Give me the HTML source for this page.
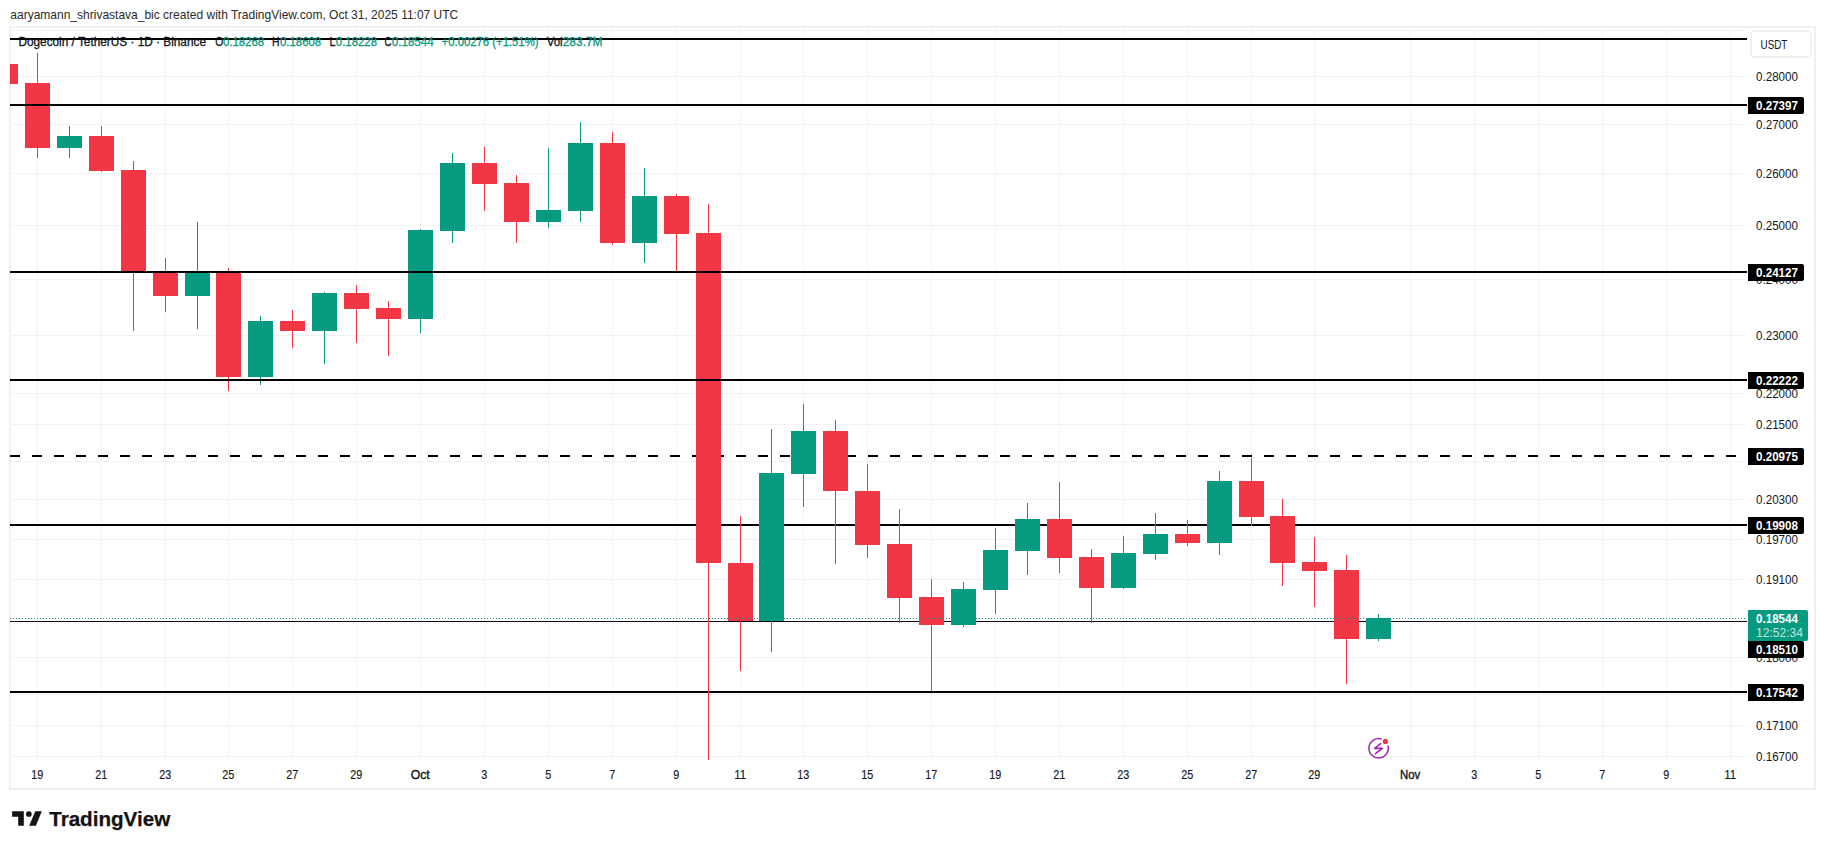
<!DOCTYPE html><html><head><meta charset="utf-8"><style>
html,body{margin:0;padding:0;background:#fff;width:1825px;height:849px;overflow:hidden}
svg{display:block}
text{font-family:"Liberation Sans",sans-serif}
</style></head><body>
<svg width="1825" height="849" viewBox="0 0 1825 849">
<rect x="0" y="0" width="1825" height="849" fill="#fff"/>

<text x="10.3" y="19.1" font-size="12.4" fill="#2B2B2B" textLength="448" lengthAdjust="spacingAndGlyphs">aaryamann_shrivastava_bic created with TradingView.com, Oct 31, 2025 11:07 UTC</text>
<g shape-rendering="crispEdges" fill="#F0F0F0">
<rect x="9" y="26" width="1807" height="2"/>
<rect x="9" y="788" width="1807" height="2"/>
<rect x="9" y="26" width="2" height="764"/>
<rect x="1814" y="26" width="2" height="764"/>
</g>
<g shape-rendering="crispEdges" fill="#F2F3F3">
<rect x="37" y="28" width="1" height="733"/>
<rect x="101" y="28" width="1" height="733"/>
<rect x="165" y="28" width="1" height="733"/>
<rect x="228" y="28" width="1" height="733"/>
<rect x="292" y="28" width="1" height="733"/>
<rect x="356" y="28" width="1" height="733"/>
<rect x="420" y="28" width="1" height="733"/>
<rect x="484" y="28" width="1" height="733"/>
<rect x="548" y="28" width="1" height="733"/>
<rect x="612" y="28" width="1" height="733"/>
<rect x="676" y="28" width="1" height="733"/>
<rect x="740" y="28" width="1" height="733"/>
<rect x="803" y="28" width="1" height="733"/>
<rect x="867" y="28" width="1" height="733"/>
<rect x="931" y="28" width="1" height="733"/>
<rect x="995" y="28" width="1" height="733"/>
<rect x="1059" y="28" width="1" height="733"/>
<rect x="1123" y="28" width="1" height="733"/>
<rect x="1187" y="28" width="1" height="733"/>
<rect x="1251" y="28" width="1" height="733"/>
<rect x="1314" y="28" width="1" height="733"/>
<rect x="1410" y="28" width="1" height="733"/>
<rect x="1474" y="28" width="1" height="733"/>
<rect x="1538" y="28" width="1" height="733"/>
<rect x="1602" y="28" width="1" height="733"/>
<rect x="1666" y="28" width="1" height="733"/>
<rect x="1730" y="28" width="1" height="733"/>
<rect x="10" y="30" width="1737" height="1"/>
<rect x="10" y="76" width="1737" height="1"/>
<rect x="10" y="124" width="1737" height="1"/>
<rect x="10" y="173" width="1737" height="1"/>
<rect x="10" y="225" width="1737" height="1"/>
<rect x="10" y="279" width="1737" height="1"/>
<rect x="10" y="335" width="1737" height="1"/>
<rect x="10" y="393" width="1737" height="1"/>
<rect x="10" y="424" width="1737" height="1"/>
<rect x="10" y="461" width="1737" height="1"/>
<rect x="10" y="499" width="1737" height="1"/>
<rect x="10" y="539" width="1737" height="1"/>
<rect x="10" y="579" width="1737" height="1"/>
<rect x="10" y="621" width="1737" height="1"/>
<rect x="10" y="657" width="1737" height="1"/>
<rect x="10" y="694" width="1737" height="1"/>
<rect x="10" y="725" width="1737" height="1"/>
<rect x="10" y="756" width="1737" height="1"/>
</g>
<g shape-rendering="crispEdges" fill="#000">
<rect x="10" y="524" width="1737" height="2"/>
<rect x="10" y="691" width="1737" height="2"/>
<rect x="10" y="621" width="1737" height="1"/>
<rect x="10" y="455" width="10" height="2"/>
<rect x="32" y="455" width="10" height="2"/>
<rect x="54" y="455" width="10" height="2"/>
<rect x="76" y="455" width="10" height="2"/>
<rect x="98" y="455" width="10" height="2"/>
<rect x="120" y="455" width="10" height="2"/>
<rect x="142" y="455" width="10" height="2"/>
<rect x="164" y="455" width="10" height="2"/>
<rect x="186" y="455" width="10" height="2"/>
<rect x="208" y="455" width="10" height="2"/>
<rect x="230" y="455" width="10" height="2"/>
<rect x="252" y="455" width="10" height="2"/>
<rect x="274" y="455" width="10" height="2"/>
<rect x="296" y="455" width="10" height="2"/>
<rect x="318" y="455" width="10" height="2"/>
<rect x="340" y="455" width="10" height="2"/>
<rect x="362" y="455" width="10" height="2"/>
<rect x="384" y="455" width="10" height="2"/>
<rect x="406" y="455" width="10" height="2"/>
<rect x="428" y="455" width="10" height="2"/>
<rect x="450" y="455" width="10" height="2"/>
<rect x="472" y="455" width="10" height="2"/>
<rect x="494" y="455" width="10" height="2"/>
<rect x="516" y="455" width="10" height="2"/>
<rect x="538" y="455" width="10" height="2"/>
<rect x="560" y="455" width="10" height="2"/>
<rect x="582" y="455" width="10" height="2"/>
<rect x="604" y="455" width="10" height="2"/>
<rect x="626" y="455" width="10" height="2"/>
<rect x="648" y="455" width="10" height="2"/>
<rect x="670" y="455" width="10" height="2"/>
<rect x="692" y="455" width="10" height="2"/>
<rect x="714" y="455" width="10" height="2"/>
<rect x="736" y="455" width="10" height="2"/>
<rect x="758" y="455" width="10" height="2"/>
<rect x="780" y="455" width="10" height="2"/>
<rect x="802" y="455" width="10" height="2"/>
<rect x="824" y="455" width="10" height="2"/>
<rect x="846" y="455" width="10" height="2"/>
<rect x="868" y="455" width="10" height="2"/>
<rect x="890" y="455" width="10" height="2"/>
<rect x="912" y="455" width="10" height="2"/>
<rect x="934" y="455" width="10" height="2"/>
<rect x="956" y="455" width="10" height="2"/>
<rect x="978" y="455" width="10" height="2"/>
<rect x="1000" y="455" width="10" height="2"/>
<rect x="1022" y="455" width="10" height="2"/>
<rect x="1044" y="455" width="10" height="2"/>
<rect x="1066" y="455" width="10" height="2"/>
<rect x="1088" y="455" width="10" height="2"/>
<rect x="1110" y="455" width="10" height="2"/>
<rect x="1132" y="455" width="10" height="2"/>
<rect x="1154" y="455" width="10" height="2"/>
<rect x="1176" y="455" width="10" height="2"/>
<rect x="1198" y="455" width="10" height="2"/>
<rect x="1220" y="455" width="10" height="2"/>
<rect x="1242" y="455" width="10" height="2"/>
<rect x="1264" y="455" width="10" height="2"/>
<rect x="1286" y="455" width="10" height="2"/>
<rect x="1308" y="455" width="10" height="2"/>
<rect x="1330" y="455" width="10" height="2"/>
<rect x="1352" y="455" width="10" height="2"/>
<rect x="1374" y="455" width="10" height="2"/>
<rect x="1396" y="455" width="10" height="2"/>
<rect x="1418" y="455" width="10" height="2"/>
<rect x="1440" y="455" width="10" height="2"/>
<rect x="1462" y="455" width="10" height="2"/>
<rect x="1484" y="455" width="10" height="2"/>
<rect x="1506" y="455" width="10" height="2"/>
<rect x="1528" y="455" width="10" height="2"/>
<rect x="1550" y="455" width="10" height="2"/>
<rect x="1572" y="455" width="10" height="2"/>
<rect x="1594" y="455" width="10" height="2"/>
<rect x="1616" y="455" width="10" height="2"/>
<rect x="1638" y="455" width="10" height="2"/>
<rect x="1660" y="455" width="10" height="2"/>
<rect x="1682" y="455" width="10" height="2"/>
<rect x="1704" y="455" width="10" height="2"/>
<rect x="1726" y="455" width="10" height="2"/>
</g>
<g shape-rendering="crispEdges">
<rect x="10" y="64" width="8" height="20" fill="#F23645"/>
<rect x="37" y="53" width="1" height="105" fill="#F23645"/>
<rect x="25" y="83" width="25" height="65" fill="#F23645"/>
<rect x="69" y="126" width="1" height="32" fill="#089981"/>
<rect x="57" y="136" width="25" height="12" fill="#089981"/>
<rect x="101" y="126" width="1" height="46" fill="#F23645"/>
<rect x="89" y="136" width="25" height="35" fill="#F23645"/>
<rect x="133" y="161" width="1" height="170" fill="#F23645"/>
<rect x="121" y="170" width="25" height="102" fill="#F23645"/>
<rect x="165" y="258" width="1" height="54" fill="#F23645"/>
<rect x="153" y="273" width="25" height="23" fill="#F23645"/>
<rect x="197" y="222" width="1" height="107" fill="#089981"/>
<rect x="185" y="273" width="25" height="23" fill="#089981"/>
<rect x="228" y="268" width="1" height="123" fill="#F23645"/>
<rect x="216" y="272" width="25" height="105" fill="#F23645"/>
<rect x="260" y="316" width="1" height="69" fill="#089981"/>
<rect x="248" y="321" width="25" height="56" fill="#089981"/>
<rect x="292" y="310" width="1" height="38" fill="#F23645"/>
<rect x="280" y="321" width="25" height="10" fill="#F23645"/>
<rect x="324" y="292" width="1" height="72" fill="#089981"/>
<rect x="312" y="293" width="25" height="38" fill="#089981"/>
<rect x="356" y="285" width="1" height="58" fill="#F23645"/>
<rect x="344" y="293" width="25" height="16" fill="#F23645"/>
<rect x="388" y="301" width="1" height="55" fill="#F23645"/>
<rect x="376" y="308" width="25" height="11" fill="#F23645"/>
<rect x="420" y="229" width="1" height="104" fill="#089981"/>
<rect x="408" y="230" width="25" height="89" fill="#089981"/>
<rect x="452" y="153" width="1" height="90" fill="#089981"/>
<rect x="440" y="163" width="25" height="68" fill="#089981"/>
<rect x="484" y="147" width="1" height="64" fill="#F23645"/>
<rect x="472" y="163" width="25" height="21" fill="#F23645"/>
<rect x="516" y="175" width="1" height="68" fill="#F23645"/>
<rect x="504" y="183" width="25" height="39" fill="#F23645"/>
<rect x="548" y="148" width="1" height="80" fill="#089981"/>
<rect x="536" y="210" width="25" height="12" fill="#089981"/>
<rect x="580" y="122" width="1" height="100" fill="#089981"/>
<rect x="568" y="143" width="25" height="68" fill="#089981"/>
<rect x="612" y="132" width="1" height="113" fill="#F23645"/>
<rect x="600" y="143" width="25" height="100" fill="#F23645"/>
<rect x="644" y="168" width="1" height="95" fill="#089981"/>
<rect x="632" y="196" width="25" height="47" fill="#089981"/>
<rect x="676" y="194" width="1" height="77" fill="#F23645"/>
<rect x="664" y="196" width="25" height="38" fill="#F23645"/>
<rect x="708" y="204" width="1" height="556" fill="#F23645"/>
<rect x="696" y="233" width="25" height="330" fill="#F23645"/>
<rect x="740" y="516" width="1" height="155" fill="#F23645"/>
<rect x="728" y="563" width="25" height="58" fill="#F23645"/>
<rect x="771" y="429" width="1" height="223" fill="#089981"/>
<rect x="759" y="473" width="25" height="148" fill="#089981"/>
<rect x="803" y="404" width="1" height="103" fill="#089981"/>
<rect x="791" y="431" width="25" height="43" fill="#089981"/>
<rect x="835" y="420" width="1" height="144" fill="#F23645"/>
<rect x="823" y="431" width="25" height="60" fill="#F23645"/>
<rect x="867" y="464" width="1" height="94" fill="#F23645"/>
<rect x="855" y="491" width="25" height="54" fill="#F23645"/>
<rect x="899" y="509" width="1" height="114" fill="#F23645"/>
<rect x="887" y="544" width="25" height="54" fill="#F23645"/>
<rect x="931" y="579" width="1" height="112" fill="#F23645"/>
<rect x="919" y="597" width="25" height="28" fill="#F23645"/>
<rect x="963" y="582" width="1" height="45" fill="#089981"/>
<rect x="951" y="589" width="25" height="36" fill="#089981"/>
<rect x="995" y="528" width="1" height="86" fill="#089981"/>
<rect x="983" y="550" width="25" height="40" fill="#089981"/>
<rect x="1027" y="503" width="1" height="72" fill="#089981"/>
<rect x="1015" y="519" width="25" height="32" fill="#089981"/>
<rect x="1059" y="482" width="1" height="91" fill="#F23645"/>
<rect x="1047" y="519" width="25" height="39" fill="#F23645"/>
<rect x="1091" y="549" width="1" height="74" fill="#F23645"/>
<rect x="1079" y="557" width="25" height="31" fill="#F23645"/>
<rect x="1123" y="536" width="1" height="53" fill="#089981"/>
<rect x="1111" y="553" width="25" height="35" fill="#089981"/>
<rect x="1155" y="513" width="1" height="47" fill="#089981"/>
<rect x="1143" y="534" width="25" height="20" fill="#089981"/>
<rect x="1187" y="520" width="1" height="26" fill="#F23645"/>
<rect x="1175" y="534" width="25" height="9" fill="#F23645"/>
<rect x="1219" y="471" width="1" height="84" fill="#089981"/>
<rect x="1207" y="481" width="25" height="62" fill="#089981"/>
<rect x="1251" y="458" width="1" height="68" fill="#F23645"/>
<rect x="1239" y="481" width="25" height="36" fill="#F23645"/>
<rect x="1282" y="499" width="1" height="87" fill="#F23645"/>
<rect x="1270" y="516" width="25" height="47" fill="#F23645"/>
<rect x="1314" y="537" width="1" height="70" fill="#F23645"/>
<rect x="1302" y="562" width="25" height="9" fill="#F23645"/>
<rect x="1346" y="555" width="1" height="129" fill="#F23645"/>
<rect x="1334" y="570" width="25" height="69" fill="#F23645"/>
<rect x="1378" y="614" width="1" height="27" fill="#089981"/>
<rect x="1366" y="618" width="25" height="21" fill="#089981"/>
</g>
<g shape-rendering="crispEdges" fill="#000">
<rect x="10" y="38" width="1737" height="2"/>
<rect x="10" y="104" width="1737" height="2"/>
<rect x="10" y="271" width="1737" height="2"/>
<rect x="10" y="379" width="1737" height="2"/>
</g>
<line x1="10" y1="618.5" x2="1747" y2="618.5" stroke="#089981" stroke-width="1" stroke-dasharray="1 2"/>
<text x="18.4" y="46" font-size="12.4" fill="#131722" stroke="#131722" stroke-width="0.3" textLength="187.6" lengthAdjust="spacingAndGlyphs">Dogecoin / TetherUS · 1D · Binance</text>
<text x="215.2" y="46" font-size="12.4" fill="#131722" stroke="#131722" stroke-width="0.3" textLength="8" lengthAdjust="spacingAndGlyphs">O</text>
<text x="223" y="46" font-size="12.4" fill="#089981" stroke="#089981" stroke-width="0.3" textLength="41.2" lengthAdjust="spacingAndGlyphs">0.18268</text>
<text x="272.1" y="46" font-size="12.4" fill="#131722" stroke="#131722" stroke-width="0.3" textLength="7.5" lengthAdjust="spacingAndGlyphs">H</text>
<text x="280" y="46" font-size="12.4" fill="#089981" stroke="#089981" stroke-width="0.3" textLength="41.2" lengthAdjust="spacingAndGlyphs">0.18608</text>
<text x="329.4" y="46" font-size="12.4" fill="#131722" stroke="#131722" stroke-width="0.3" textLength="6" lengthAdjust="spacingAndGlyphs">L</text>
<text x="335.8" y="46" font-size="12.4" fill="#089981" stroke="#089981" stroke-width="0.3" textLength="41.2" lengthAdjust="spacingAndGlyphs">0.18228</text>
<text x="384.6" y="46" font-size="12.4" fill="#131722" stroke="#131722" stroke-width="0.3" textLength="7" lengthAdjust="spacingAndGlyphs">C</text>
<text x="391.7" y="46" font-size="12.4" fill="#089981" stroke="#089981" stroke-width="0.3" textLength="42.1" lengthAdjust="spacingAndGlyphs">0.18544</text>
<text x="441.6" y="46" font-size="12.4" fill="#089981" stroke="#089981" stroke-width="0.3" textLength="96.9" lengthAdjust="spacingAndGlyphs">+0.00276 (+1.51%)</text>
<text x="546.7" y="46" font-size="12.4" fill="#131722" stroke="#131722" stroke-width="0.3" textLength="16" lengthAdjust="spacingAndGlyphs">Vol</text>
<text x="562.7" y="46" font-size="12.4" fill="#089981" stroke="#089981" stroke-width="0.3" textLength="39.9" lengthAdjust="spacingAndGlyphs">283.7M</text>
<text x="1756" y="80.8" font-size="12.8" fill="#131722" textLength="42" lengthAdjust="spacingAndGlyphs">0.28000</text>
<text x="1756" y="128.7" font-size="12.8" fill="#131722" textLength="42" lengthAdjust="spacingAndGlyphs">0.27000</text>
<text x="1756" y="178.4" font-size="12.8" fill="#131722" textLength="42" lengthAdjust="spacingAndGlyphs">0.26000</text>
<text x="1756" y="230.0" font-size="12.8" fill="#131722" textLength="42" lengthAdjust="spacingAndGlyphs">0.25000</text>
<text x="1756" y="283.7" font-size="12.8" fill="#131722" textLength="42" lengthAdjust="spacingAndGlyphs">0.24000</text>
<text x="1756" y="339.8" font-size="12.8" fill="#131722" textLength="42" lengthAdjust="spacingAndGlyphs">0.23000</text>
<text x="1756" y="398.3" font-size="12.8" fill="#131722" textLength="42" lengthAdjust="spacingAndGlyphs">0.22000</text>
<text x="1756" y="428.5" font-size="12.8" fill="#131722" textLength="42" lengthAdjust="spacingAndGlyphs">0.21500</text>
<text x="1756" y="504.1" font-size="12.8" fill="#131722" textLength="42" lengthAdjust="spacingAndGlyphs">0.20300</text>
<text x="1756" y="543.6" font-size="12.8" fill="#131722" textLength="42" lengthAdjust="spacingAndGlyphs">0.19700</text>
<text x="1756" y="584.3" font-size="12.8" fill="#131722" textLength="42" lengthAdjust="spacingAndGlyphs">0.19100</text>
<text x="1756" y="662.4" font-size="12.8" fill="#131722" textLength="42" lengthAdjust="spacingAndGlyphs">0.18000</text>
<text x="1756" y="729.9" font-size="12.8" fill="#131722" textLength="42" lengthAdjust="spacingAndGlyphs">0.17100</text>
<text x="1756" y="761.1" font-size="12.8" fill="#131722" textLength="42" lengthAdjust="spacingAndGlyphs">0.16700</text>
<path d="M1748 97 h54 a2 2 0 0 1 2 2 v13 a2 2 0 0 1 -2 2 h-54 z" fill="#000"/>
<text x="1756" y="110" font-size="12.2" fill="#fff" textLength="42" lengthAdjust="spacingAndGlyphs" font-weight="bold">0.27397</text>
<path d="M1748 264 h54 a2 2 0 0 1 2 2 v13 a2 2 0 0 1 -2 2 h-54 z" fill="#000"/>
<text x="1756" y="277" font-size="12.2" fill="#fff" textLength="42" lengthAdjust="spacingAndGlyphs" font-weight="bold">0.24127</text>
<path d="M1748 372 h54 a2 2 0 0 1 2 2 v13 a2 2 0 0 1 -2 2 h-54 z" fill="#000"/>
<text x="1756" y="385" font-size="12.2" fill="#fff" textLength="42" lengthAdjust="spacingAndGlyphs" font-weight="bold">0.22222</text>
<path d="M1748 448 h54 a2 2 0 0 1 2 2 v13 a2 2 0 0 1 -2 2 h-54 z" fill="#000"/>
<text x="1756" y="461" font-size="12.2" fill="#fff" textLength="42" lengthAdjust="spacingAndGlyphs" font-weight="bold">0.20975</text>
<path d="M1748 517 h54 a2 2 0 0 1 2 2 v13 a2 2 0 0 1 -2 2 h-54 z" fill="#000"/>
<text x="1756" y="530" font-size="12.2" fill="#fff" textLength="42" lengthAdjust="spacingAndGlyphs" font-weight="bold">0.19908</text>
<path d="M1748 684 h54 a2 2 0 0 1 2 2 v13 a2 2 0 0 1 -2 2 h-54 z" fill="#000"/>
<text x="1756" y="697" font-size="12.2" fill="#fff" textLength="42" lengthAdjust="spacingAndGlyphs" font-weight="bold">0.17542</text>
<path d="M1748 641 h54 a2 2 0 0 1 2 2 v13 a2 2 0 0 1 -2 2 h-54 z" fill="#000"/>
<text x="1756" y="654" font-size="12.2" fill="#fff" textLength="42" lengthAdjust="spacingAndGlyphs" font-weight="bold">0.18510</text>
<path d="M1748 610 h58 a2 2 0 0 1 2 2 v27 a2 2 0 0 1 -2 2 h-58 z" fill="#089981"/>
<text x="1756" y="623" font-size="12.2" fill="#fff" textLength="42" lengthAdjust="spacingAndGlyphs" font-weight="bold">0.18544</text>
<text x="1756" y="637" font-size="12.2" fill="#fff" textLength="47" lengthAdjust="spacingAndGlyphs" fill-opacity="0.75">12:52:34</text>
<rect x="1751" y="31" width="60" height="26" rx="4.5" fill="#fff" stroke="#EBEBEB" stroke-width="1.3"/>
<text x="1760.6" y="48.8" font-size="12.6" fill="#131722" textLength="26.8" lengthAdjust="spacingAndGlyphs">USDT</text>
<text x="31.2" y="779" font-size="12.5" fill="#131722" stroke="#131722" stroke-width="0.15" textLength="12.0" lengthAdjust="spacingAndGlyphs">19</text>
<text x="95.2" y="779" font-size="12.5" fill="#131722" stroke="#131722" stroke-width="0.15" textLength="12.0" lengthAdjust="spacingAndGlyphs">21</text>
<text x="159.2" y="779" font-size="12.5" fill="#131722" stroke="#131722" stroke-width="0.15" textLength="12.0" lengthAdjust="spacingAndGlyphs">23</text>
<text x="222.2" y="779" font-size="12.5" fill="#131722" stroke="#131722" stroke-width="0.15" textLength="12.0" lengthAdjust="spacingAndGlyphs">25</text>
<text x="286.2" y="779" font-size="12.5" fill="#131722" stroke="#131722" stroke-width="0.15" textLength="12.0" lengthAdjust="spacingAndGlyphs">27</text>
<text x="350.2" y="779" font-size="12.5" fill="#131722" stroke="#131722" stroke-width="0.15" textLength="12.0" lengthAdjust="spacingAndGlyphs">29</text>
<text x="410.7" y="779" font-size="12.5" fill="#131722" stroke="#131722" stroke-width="0.4" textLength="19" lengthAdjust="spacingAndGlyphs">Oct</text>
<text x="481.2" y="779" font-size="12.5" fill="#131722" stroke="#131722" stroke-width="0.15" textLength="6.0" lengthAdjust="spacingAndGlyphs">3</text>
<text x="545.2" y="779" font-size="12.5" fill="#131722" stroke="#131722" stroke-width="0.15" textLength="6.0" lengthAdjust="spacingAndGlyphs">5</text>
<text x="609.2" y="779" font-size="12.5" fill="#131722" stroke="#131722" stroke-width="0.15" textLength="6.0" lengthAdjust="spacingAndGlyphs">7</text>
<text x="673.2" y="779" font-size="12.5" fill="#131722" stroke="#131722" stroke-width="0.15" textLength="6.0" lengthAdjust="spacingAndGlyphs">9</text>
<text x="734.2" y="779" font-size="12.5" fill="#131722" stroke="#131722" stroke-width="0.15" textLength="12.0" lengthAdjust="spacingAndGlyphs">11</text>
<text x="797.2" y="779" font-size="12.5" fill="#131722" stroke="#131722" stroke-width="0.15" textLength="12.0" lengthAdjust="spacingAndGlyphs">13</text>
<text x="861.2" y="779" font-size="12.5" fill="#131722" stroke="#131722" stroke-width="0.15" textLength="12.0" lengthAdjust="spacingAndGlyphs">15</text>
<text x="925.2" y="779" font-size="12.5" fill="#131722" stroke="#131722" stroke-width="0.15" textLength="12.0" lengthAdjust="spacingAndGlyphs">17</text>
<text x="989.2" y="779" font-size="12.5" fill="#131722" stroke="#131722" stroke-width="0.15" textLength="12.0" lengthAdjust="spacingAndGlyphs">19</text>
<text x="1053.2" y="779" font-size="12.5" fill="#131722" stroke="#131722" stroke-width="0.15" textLength="12.0" lengthAdjust="spacingAndGlyphs">21</text>
<text x="1117.2" y="779" font-size="12.5" fill="#131722" stroke="#131722" stroke-width="0.15" textLength="12.0" lengthAdjust="spacingAndGlyphs">23</text>
<text x="1181.2" y="779" font-size="12.5" fill="#131722" stroke="#131722" stroke-width="0.15" textLength="12.0" lengthAdjust="spacingAndGlyphs">25</text>
<text x="1245.2" y="779" font-size="12.5" fill="#131722" stroke="#131722" stroke-width="0.15" textLength="12.0" lengthAdjust="spacingAndGlyphs">27</text>
<text x="1308.2" y="779" font-size="12.5" fill="#131722" stroke="#131722" stroke-width="0.15" textLength="12.0" lengthAdjust="spacingAndGlyphs">29</text>
<text x="1400.1" y="779" font-size="12.5" fill="#131722" stroke="#131722" stroke-width="0.4" textLength="20.2" lengthAdjust="spacingAndGlyphs">Nov</text>
<text x="1471.2" y="779" font-size="12.5" fill="#131722" stroke="#131722" stroke-width="0.15" textLength="6.0" lengthAdjust="spacingAndGlyphs">3</text>
<text x="1535.2" y="779" font-size="12.5" fill="#131722" stroke="#131722" stroke-width="0.15" textLength="6.0" lengthAdjust="spacingAndGlyphs">5</text>
<text x="1599.2" y="779" font-size="12.5" fill="#131722" stroke="#131722" stroke-width="0.15" textLength="6.0" lengthAdjust="spacingAndGlyphs">7</text>
<text x="1663.2" y="779" font-size="12.5" fill="#131722" stroke="#131722" stroke-width="0.15" textLength="6.0" lengthAdjust="spacingAndGlyphs">9</text>
<text x="1724.2" y="779" font-size="12.5" fill="#131722" stroke="#131722" stroke-width="0.15" textLength="12.0" lengthAdjust="spacingAndGlyphs">11</text>
<circle cx="1378.6" cy="748.2" r="11.5" fill="#fff"/>
<path d="M1387.88 745.36 A9.7 9.7 0 1 1 1381.66 739.0" fill="none" stroke="#9C27B0" stroke-width="1.5"/>
<circle cx="1385.4" cy="741.4" r="2.6" fill="#F23645"/>
<polyline points="1380.6,743.6 1374.7,748.4 1382.3,748.4 1375.5,753.6" fill="none" stroke="#9C27B0" stroke-width="1.6" stroke-linejoin="round" stroke-linecap="round"/>
<g fill="#131313">
<path d="M12.1 811.2 H23.8 V825.8 H18.2 V816.8 H12.1 Z"/>
<circle cx="28.85" cy="814.0" r="2.85"/>
<path d="M35.3 811.2 H41.8 L35.9 825.8 H29.2 Z"/>
</g>
<text x="49.2" y="825.8" font-size="20.3" fill="#131313" stroke="#131313" stroke-width="0.25" textLength="121" lengthAdjust="spacingAndGlyphs" font-weight="bold">TradingView</text>
</svg></body></html>
